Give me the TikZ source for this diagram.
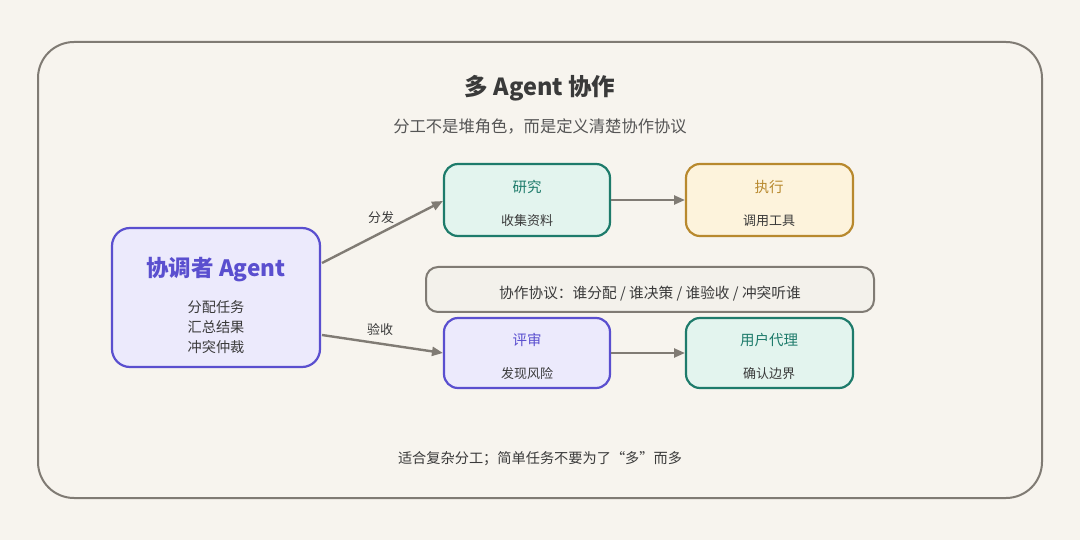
\documentclass[tikz,border=0pt]{standalone}
\usepackage{fontspec}
\setmainfont{Noto Sans CJK SC}
\usetikzlibrary{arrows.meta}
\definecolor{bg}{HTML}{F7F4EE}
\definecolor{frame}{HTML}{807B74}
\definecolor{ink}{HTML}{3A3A3A}
\definecolor{sub}{HTML}{555555}
\definecolor{purp}{HTML}{5A4FCF}
\definecolor{purpf}{HTML}{ECEAFC}
\definecolor{teal}{HTML}{1E7B6B}
\definecolor{tealf}{HTML}{E3F4EE}
\definecolor{gold}{HTML}{B8892E}
\definecolor{goldf}{HTML}{FDF3DC}
\definecolor{protf}{HTML}{F3F1EB}
\tikzset{
  x=1pt,y=-1pt,
  box/.style={rounded corners=14pt,line width=2.2pt},
  head/.style={font=\fontsize{14.5}{16}\selectfont},
  body/.style={font=\fontsize{13}{15}\selectfont,text=ink},
  conn/.style={draw=frame,line width=2.4pt,-{Triangle[length=11pt,width=9pt]}},
  lab/.style={font=\fontsize{13}{15}\selectfont,text=ink}
}
\begin{document}
\begin{tikzpicture}
\fill[bg] (0,0) rectangle (1080,540);
\useasboundingbox (0,0) rectangle (1080,540);
\draw[frame,line width=2pt,rounded corners=36pt] (38,42) rectangle (1042,498);
\node[font=\fontsize{23.5}{28}\selectfont\bfseries,text=ink] (title) at (540,88) {多 Agent 协作};
\node[font=\fontsize{16.3}{19}\selectfont,text=sub] (subtitle) at (540,126) {分工不是堆角色，而是定义清楚协作协议};
% coordinator
\draw[box,draw=purp,fill=purpf,rounded corners=18pt] (112,228) rectangle (320,367);
\node[font=\fontsize{22.5}{26}\selectfont\bfseries,text=purp] (coordt) at (216,270) {协调者 Agent};
\node[body,font=\fontsize{14.2}{20}\selectfont,align=center] (coordb) at (216,327) {分配任务\\汇总结果\\冲突仲裁};
\coordinate (coordA) at (322,263);
\coordinate (coordB) at (322,335);
% research
\draw[box,draw=teal,fill=tealf] (444,164) rectangle (610,236);
\node[head,text=teal] (res) at (527,187) {研究};
\node[body] (resb) at (527,221) {收集资料};
\coordinate (resW) at (443,201);
\coordinate (resE) at (611,200);
% exec
\draw[box,draw=gold,fill=goldf] (686,164) rectangle (853,236);
\node[head,text=gold] (exe) at (769,187) {执行};
\node[body] (exeb) at (769,221) {调用工具};
\coordinate (exeW) at (685,200);
% protocol
\draw[frame,line width=2pt,rounded corners=12pt,fill=protf] (426,267) rectangle (874,312);
\node[font=\fontsize{14.7}{17}\selectfont,text=ink] (prot) at (650,294) {协作协议：谁分配 / 谁决策 / 谁验收 / 冲突听谁};
% review
\draw[box,draw=purp,fill=purpf] (444,318) rectangle (610,388);
\node[head,text=purp] (rev) at (527,340) {评审};
\node[body] (revb) at (527,374) {发现风险};
\coordinate (revW) at (443,353);
\coordinate (revE) at (611,353);
% user proxy
\draw[box,draw=teal,fill=tealf] (686,318) rectangle (853,388);
\node[head,text=teal] (usr) at (769,340) {用户代理};
\node[body] (usrb) at (769,374) {确认边界};
\coordinate (usrW) at (685,353);
% connectors
\draw[conn] (coordA) -- (resW);
\node[lab] (l1) at (381,218) {分发};
\draw[conn] (coordB) -- (revW);
\node[lab] (l2) at (380,330) {验收};
\draw[conn] (resE) -- (exeW);
\draw[conn] (revE) -- (usrW);
\node[font=\fontsize{14.2}{16}\selectfont,text=ink] (foot) at (540,459) {适合复杂分工；简单任务不要为了“多”而多};
\end{tikzpicture}
\end{document}
